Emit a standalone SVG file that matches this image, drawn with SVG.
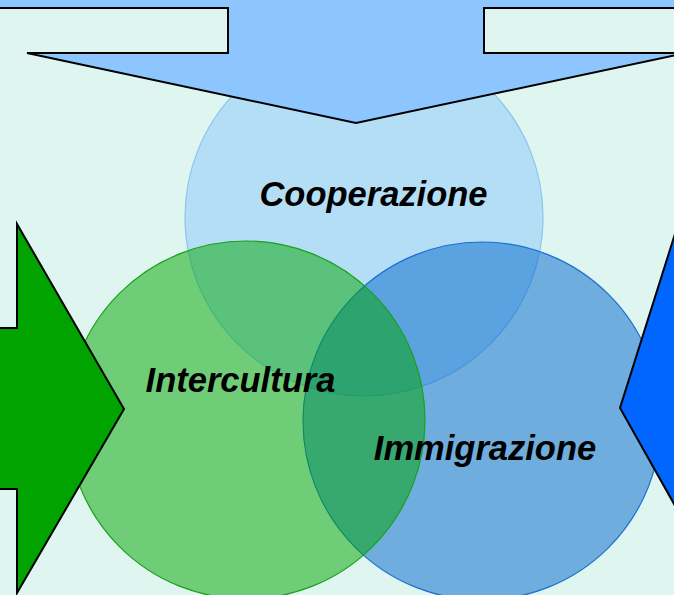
<svg xmlns="http://www.w3.org/2000/svg" width="674" height="595" viewBox="0 0 674 595">
  <style>
    .arrow { stroke: #000; stroke-width: 2; stroke-linejoin: miter; }
    .circ { stroke-width: 1.2; }
    .label { font-family: "Liberation Sans", Arial, sans-serif; font-size: 34.5px; font-weight: bold; font-style: italic; fill: #000; text-anchor: middle; }
  </style>
  <rect id="background" x="0" y="0" width="674" height="595" fill="#DEF5F0"/>

  <g id="node-cooperazione">
    <circle class="circ" cx="364" cy="217" r="179" fill="#B4DEF5" stroke="#8EC3F0"/>
  </g>
  <g id="node-immigrazione">
    <circle class="circ" cx="482" cy="421" r="179" fill="#0065CC" fill-opacity="0.5" stroke="#1A6FD0"/>
  </g>
  <g id="node-intercultura">
    <circle class="circ" cx="246" cy="420" r="179" fill="#00A500" fill-opacity="0.5" stroke="#1AA01A"/>
  </g>

  <g id="connectors">
    <polygon id="arrow-top" class="arrow" fill="#8DC6FF" points="-5,-5 679,-5 679,8 484,8 484,53 686,53 356,123 27,53 228,53 228,8 -5,8"/>
    <polygon id="arrow-left" class="arrow" fill="#00A300" points="-5,328 17,328 17,224 124,409 17,593 17,489 -5,489"/>
    <polygon id="arrow-right" class="arrow" fill="#0066FF" points="680,218 727,218 727,598 620,408"/>
  </g>

  <g id="labels">
    <text id="label-cooperazione" class="label" x="373.5" y="205.5">Cooperazione</text>
    <text id="label-intercultura" class="label" x="240.5" y="391.5">Intercultura</text>
    <text id="label-immigrazione" class="label" x="485" y="459.5">Immigrazione</text>
  </g>
</svg>
